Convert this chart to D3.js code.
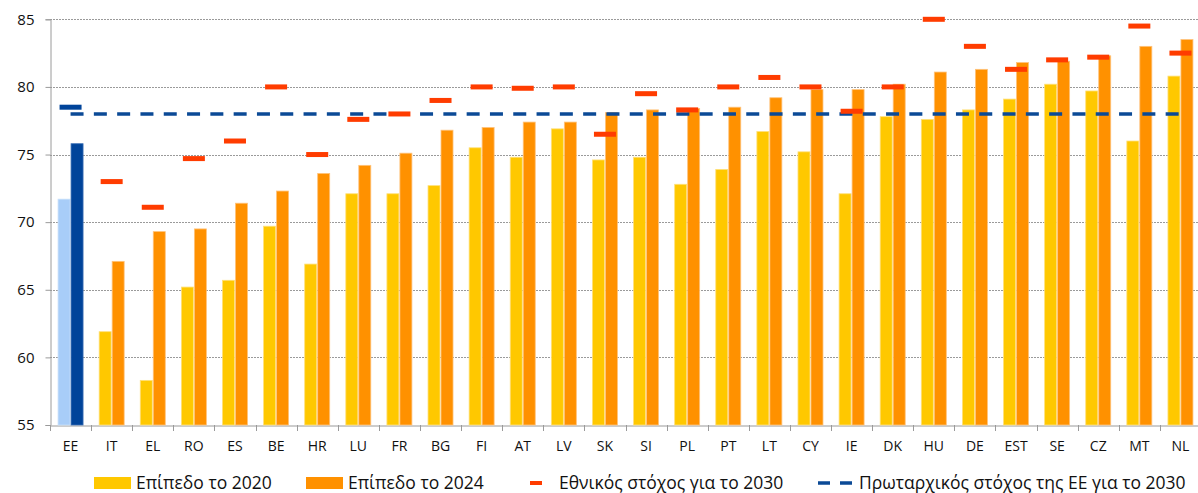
<!DOCTYPE html>
<html>
<head>
<meta charset="utf-8">
<script src="https://cdn.jsdelivr.net/npm/d3@7"></script>
<style>
  body { margin: 0; background: #fff; }
  svg { display: block; font-family: "Open Sans", sans-serif; }
</style>
</head>
<body>
<svg id="chart" width="1198" height="493"></svg>
<script>
var countries = ["EE", "IT", "EL", "RO", "ES", "BE", "HR", "LU", "FR", "BG", "FI", "AT", "LV", "SK", "SI",
                 "PL", "PT", "LT", "CY", "IE", "DK", "HU", "DE", "EST", "SE", "CZ", "MT", "NL"];
var level2020 = [71.7, 61.9, 58.3, 65.2, 65.7, 69.7, 66.9, 72.1, 72.1, 72.7, 75.5, 74.8, 76.9, 74.6, 74.8,
                 72.8, 73.9, 76.7, 75.2, 72.1, 77.8, 77.6, 78.3, 79.1, 80.2, 79.7, 76.0, 80.8];
var level2024 = [75.8, 67.1, 69.3, 69.5, 71.4, 72.3, 73.6, 74.2, 75.1, 76.8, 77.0, 77.4, 77.4, 78.1, 78.3,
                 78.4, 78.5, 79.2, 79.8, 79.8, 80.2, 81.1, 81.3, 81.8, 81.9, 82.3, 83.0, 83.5];
var target2030 = [78.5, 73.0, 71.1, 74.7, 76.0, 80.0, 75.0, 77.6, 78.0, 79.0, 80.0, 79.9, 80.0, 76.5, 79.5,
                  78.3, 80.0, 80.7, 80.0, 78.2, 80.0, 85.0, 83.0, 81.3, 82.0, 82.2, 84.5, 82.5];
var euTarget = 78;
var yTicks = [55, 60, 65, 70, 75, 80, 85];
var legendLabels = ["Επίπεδο το 2020", "Επίπεδο το 2024", "Εθνικός στόχος για το 2030", "Πρωταρχικός στόχος της ΕΕ για το 2030"];

var svg = d3.select("#chart");
var plotLeft = 50, plotRight = 1201, plotTop = 19.3, plotBottom = 425;

var x = d3.scaleBand().domain(countries).range([plotLeft, plotRight]).paddingInner(0).paddingOuter(0);
var y = d3.scaleLinear().domain([55, 85]).range([plotBottom, plotTop]);

var bw = x.bandwidth();
var barW = 12, gap = 1, offset = (bw - 2 * barW - gap) / 2;

// gridlines
svg.append("g")
    .selectAll("line")
    .data(yTicks.slice(1))
    .enter().append("line")
    .attr("x1", plotLeft).attr("x2", 1198)
    .attr("y1", function(d) { return Math.round(y(d)) + 0.5; })
    .attr("y2", function(d) { return Math.round(y(d)) + 0.5; })
    .attr("stroke", "#9a9a9a")
    .attr("stroke-width", 1)
    .attr("stroke-dasharray", "2,1");

// y axis
var yAxis = svg.append("g")
    .attr("transform", "translate(" + (plotLeft + 0.5) + ",0)")
    .call(d3.axisLeft(y).tickValues(yTicks).tickSize(5).tickPadding(11));
yAxis.select(".domain").attr("stroke", "#9a9a9a");
yAxis.selectAll(".tick line").attr("stroke", "#9a9a9a");
yAxis.selectAll("text").attr("font-size", 15).attr("fill", "#111").attr("font-family", "Open Sans");

// x axis
var xAxis = svg.append("g")
    .attr("transform", "translate(0," + (Math.round(plotBottom) + 0.5) + ")")
    .call(d3.axisBottom(x).tickSize(0).tickPadding(16));
xAxis.select(".domain").attr("stroke", "#9a9a9a");
xAxis.selectAll("text").attr("font-size", 14).attr("fill", "#111").attr("font-family", "Open Sans");
svg.append("g")
    .selectAll("line")
    .data(countries)
    .enter().append("line")
    .attr("x1", function(d) { return Math.round(x(d)) + 0.5; })
    .attr("x2", function(d) { return Math.round(x(d)) + 0.5; })
    .attr("y1", plotBottom).attr("y2", plotBottom + 6)
    .attr("stroke", "#9a9a9a");

// bars 2020
svg.append("g")
    .selectAll("rect")
    .data(countries)
    .enter().append("rect")
    .attr("x", function(d) { return x(d) + offset; })
    .attr("y", function(d, i) { return y(level2020[i]); })
    .attr("width", barW)
    .attr("height", function(d, i) { return y(55) - y(level2020[i]); })
    .attr("fill", function(d, i) { return i === 0 ? "#a8cdf8" : "#ffc800"; })
    .attr("stroke", function(d, i) { return i === 0 ? "#c8e0fb" : "#ffe07a"; })
    .attr("stroke-width", 0.8);

// bars 2024
svg.append("g")
    .selectAll("rect")
    .data(countries)
    .enter().append("rect")
    .attr("x", function(d) { return x(d) + offset + barW + gap; })
    .attr("y", function(d, i) { return y(level2024[i]); })
    .attr("width", barW)
    .attr("height", function(d, i) { return y(55) - y(level2024[i]); })
    .attr("fill", function(d, i) { return i === 0 ? "#00449a" : "#ff9100"; })
    .attr("stroke", function(d, i) { return i === 0 ? "#3a6fb5" : "#ffc27a"; })
    .attr("stroke-width", 0.8);

// EU target dashed line
svg.append("line")
    .attr("x1", x(countries[0]) + bw / 2)
    .attr("x2", x(countries[countries.length - 1]) + bw / 2)
    .attr("y1", y(euTarget)).attr("y2", y(euTarget))
    .attr("stroke", "#0b4a96")
    .attr("stroke-width", 3.5)
    .attr("stroke-dasharray", "13,10.3");

// national targets
svg.append("g")
    .selectAll("rect")
    .data(countries)
    .enter().append("rect")
    .attr("x", function(d) { return x(d) + bw / 2 - 11; })
    .attr("y", function(d, i) { return y(target2030[i]) - 2.5; })
    .attr("width", 22)
    .attr("height", 5)
    .attr("fill", function(d, i) { return i === 0 ? "#00449a" : "#ff3c00"; });

// legend
var legend = svg.append("g").attr("font-size", 17.5).attr("fill", "#111");
legend.append("rect").attr("x", 94).attr("y", 477).attr("width", 37).attr("height", 12).attr("fill", "#ffc800");
legend.append("text").attr("x", 136).attr("y", 489).text(legendLabels[0]);
legend.append("rect").attr("x", 306).attr("y", 477).attr("width", 37).attr("height", 12).attr("fill", "#ff9100");
legend.append("text").attr("x", 348).attr("y", 489).text(legendLabels[1]);
legend.append("rect").attr("x", 530).attr("y", 481).attr("width", 12).attr("height", 4).attr("fill", "#ff3c00");
legend.append("text").attr("x", 559).attr("y", 489).text(legendLabels[2]);
legend.append("line").attr("x1", 818).attr("x2", 853).attr("y1", 483).attr("y2", 483)
    .attr("stroke", "#0b4a96").attr("stroke-width", 3.5).attr("stroke-dasharray", "12,10");
legend.append("text").attr("x", 859).attr("y", 489).text(legendLabels[3]);
</script>
</body>
</html>
